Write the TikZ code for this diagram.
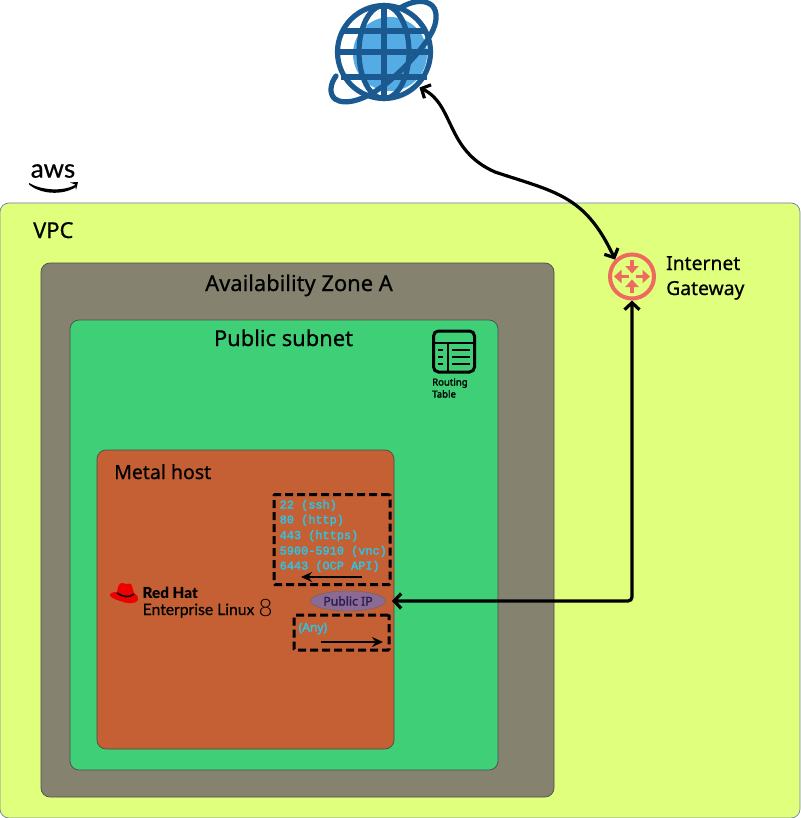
\documentclass[tikz,border=0pt]{standalone}
\usepackage{fontspec}
\setmainfont{Noto Sans}[RawFeature={embolden=0.7}]
\newfontfamily\heavyfam{Noto Sans}[RawFeature={embolden=2}]
\newfontfamily\monofam{Liberation Mono}[RawFeature={embolden=2.2}]
\newfontfamily\logofam{Lato}[RawFeature={embolden=0.6}]
\newfontfamily\logoheavy{Lato Black}
\newfontfamily\logolight{Lato Light}
\usetikzlibrary{arrows.meta,shapes.geometric}
\definecolor{vpcfill}{HTML}{E0FF7C}
\definecolor{vpcline}{HTML}{6F7FA8}
\definecolor{azfill}{HTML}{85836F}
\definecolor{subnetfill}{HTML}{3FD077}
\definecolor{hostfill}{HTML}{C46034}
\definecolor{ipfill}{HTML}{8B6A94}
\definecolor{portblue}{HTML}{2DC4E6}
\definecolor{igwred}{HTML}{EE6A5F}
\definecolor{globedark}{HTML}{1B5A91}
\definecolor{globelight}{HTML}{55ACE4}
\definecolor{hatred}{HTML}{EE0000}
\definecolor{ipink}{HTML}{2A1F55}
\tikzset{
  x=1pt,y=-1pt,
  region/.style={draw=#1,line width=0.7pt,rounded corners=9pt},
  title/.style={text=black,inner sep=0pt,anchor=base,font=\fontsize{21.9}{26}\selectfont},
  portbox/.style={draw=black,line width=3pt,dash pattern=on 8pt off 4pt,rounded corners=1pt},
  portline/.style={font=\monofam\fontsize{11.9}{14}\selectfont,text=portblue,inner sep=0pt,anchor=base west},
  link/.style={draw=black,line width=3.2pt,{Straight Barb[length=7pt,width=15pt,line width=3.2pt]}-{Straight Barb[length=7pt,width=15pt,line width=3.2pt]}},
  flowarrow/.style={draw=black,line width=2.6pt,-{Stealth[length=11pt,width=10pt]}},
  gline/.style={draw=globedark,line width=5.2pt},
  igwarrow/.style={draw=igwred,line width=3.4pt,-{Triangle[length=7.5pt,width=13pt]}},
  small/.style={inner sep=0pt,font=\heavyfam\fontsize{9.6}{12}\selectfont,anchor=base west},
  igwtext/.style={inner sep=0pt,anchor=base west,font=\fontsize{19.3}{22}\selectfont},
}
\begin{document}
\begin{tikzpicture}
\useasboundingbox (0,0) rectangle (800,818);
\fill[white] (0,0) rectangle (800,818);
% regions
\draw[region=vpcline,fill=vpcfill] (0,203) rectangle (800,818);
\draw[region=black!70,fill=azfill] (41,263) rectangle (554,797);
\draw[region=black!70,fill=subnetfill] (70,320) rectangle (498,770);
\draw[region=black!70,fill=hostfill] (97,450) rectangle (394,749);
% titles
\node[title,anchor=base west] (vpclabel) at (33,238) {VPC};
\node[title] (azlabel) at (299,291) {Availability Zone A};
\node[title] (subnetlabel) at (283.5,346) {Public subnet};
\node[title,anchor=base west,font=\fontsize{19.5}{22}\selectfont] (hostlabel) at (114,479) {Metal host};
% aws logo
\node[inner sep=0pt,font=\logofam\fontsize{26}{28}\selectfont] (aws) at (53,171) {aws};
\fill[black] (29,183) .. controls (41,190) and (62,192) .. (75,185) -- (76,187) .. controls (62,196) and (40,194) .. (29,184.5) -- cycle;
\fill[black] (70,182.5) -- (78,182) -- (76,190) -- (75,184.5) -- cycle;
% globe
\node[circle,minimum size=100pt,inner sep=0pt] (globe) at (384,52) {};
\fill[globelight] (390,54) circle (37);
\draw[gline] (384,52) circle (46.5);
\draw[gline] (384,5) -- (384,99);
\draw[gline] (384,52) ellipse (25 and 46.5);
\draw[gline] (341,31) -- (427,31);
\draw[gline] (337,52) -- (431,52);
\draw[gline] (341,77) -- (427,77);
\draw[gline,line cap=round] (336,76) .. controls (330,84) and (329,94) .. (335,99)
  .. controls (345,106) and (366,100) .. (387,83)
  .. controls (405,68) and (425,47) .. (433,30)
  .. controls (438,19) and (437,8) .. (430,4)
  .. controls (422,-1) and (410,2) .. (400,8);
% routing table
\node[draw=black,line width=3pt,rounded corners=5pt,minimum width=41pt,minimum height=41pt,inner sep=0pt] (rtable) at (454,351.5) {};
\draw[black,line width=2.6pt] (rtable.west |- 0,343) -- (rtable.east |- 0,343);
\draw[black,line width=2.6pt] (448,343) -- (448,372);
\foreach \yy in {350,357,364}{
  \draw[black,line width=2.4pt] (438,\yy) -- (443,\yy);
  \draw[black,line width=2.4pt] (452,\yy) -- (470,\yy);
}
\node[small] (rt1) at (432,385.5) {Routing};
\node[small] (rt2) at (432,397.5) {Table};
% internet gateway
\node[circle,draw=igwred,line width=4pt,minimum size=44pt,inner sep=0pt] (igw) at (632,276.5) {};
\draw[igwarrow] (632,260) -- (632,273.5);
\draw[igwarrow] (632,293) -- (632,279.5);
\draw[igwarrow] (628.5,276.5) -- (614,276.5);
\draw[igwarrow] (635.5,276.5) -- (650,276.5);
\node[igwtext] (igw1) at (666,270) {Internet};
\node[igwtext] (igw2) at (666,295) {Gateway};
% port boxes
\node[portbox,minimum width=116pt,minimum height=90pt,inner sep=0pt] (inbound) at (332,539.5) {};
\node[portline] (p1) at (279.5,508.5) {22 (ssh)};
\node[portline] (p2) at (279.5,523.5) {80 (http)};
\node[portline] (p3) at (279.5,539) {443 (https)};
\node[portline] (p4) at (279.5,554.5) {5900-5910 (vnc)};
\node[portline] (p5) at (279.5,569.5) {6443 (OCP API)};
\coordinate (in1) at (362,577);
\coordinate (in2) at (301,577);
\draw[flowarrow] (in1) -- (in2);
\node[portbox,minimum width=95pt,minimum height=35pt,inner sep=0pt] (outbound) at (341.5,632.5) {};
\node[inner sep=0pt,anchor=base west,text=portblue,font=\heavyfam\fontsize{12}{14}\selectfont] (anylabel) at (298.5,631.5) {(Any)};
\coordinate (out1) at (321,642);
\coordinate (out2) at (383,642);
\draw[flowarrow] (out1) -- (out2);
% public ip
\node[ellipse,draw=black!60,line width=0.4pt,fill=ipfill,minimum width=75pt,minimum height=20pt,inner sep=0pt,text=ipink,font=\heavyfam\fontsize{12.2}{14}\selectfont] (pubip) at (348,601) {Public IP};
% red hat logo
\fill[hatred] (117,592) .. controls (118,586) and (119,583) .. (122,583) .. controls (124,583) and (125,584) .. (127,584) .. controls (129,584) and (130,583) .. (131,584) .. controls (132,585) and (133,590) .. (134,593)
  .. controls (137,595) and (139,597) .. (138,600) .. controls (136,604) and (128,604) .. (120,601) .. controls (114,599) and (110,597) .. (110,595) .. controls (110,593) and (113,592) .. (117,592) -- cycle;
\draw[black,line width=1.6pt] (117,593) .. controls (122,597) and (130,598) .. (134,594);
\node[inner sep=0pt,anchor=base west,font=\logoheavy\fontsize{15.2}{16}\selectfont] (rh1) at (142.5,598) {Red Hat};
\node[inner sep=0pt,anchor=base west,font=\logofam\fontsize{15.7}{16}\selectfont] (rh2) at (142.5,615) {Enterprise Linux};
\node[inner sep=0pt,anchor=base west,font=\logolight\fontsize{24}{26}\selectfont] (rh3) at (258.5,616) {8};
% connectors
\draw[link] (globe.-45) .. controls (455,105) and (445,150) .. (495,172)
  .. controls (555,192) and (585,195) .. (igw.135);
\draw[link,rounded corners=4pt] (igw.south) -- (igw.south |- pubip) -- (392,601);
\end{tikzpicture}
\end{document}
